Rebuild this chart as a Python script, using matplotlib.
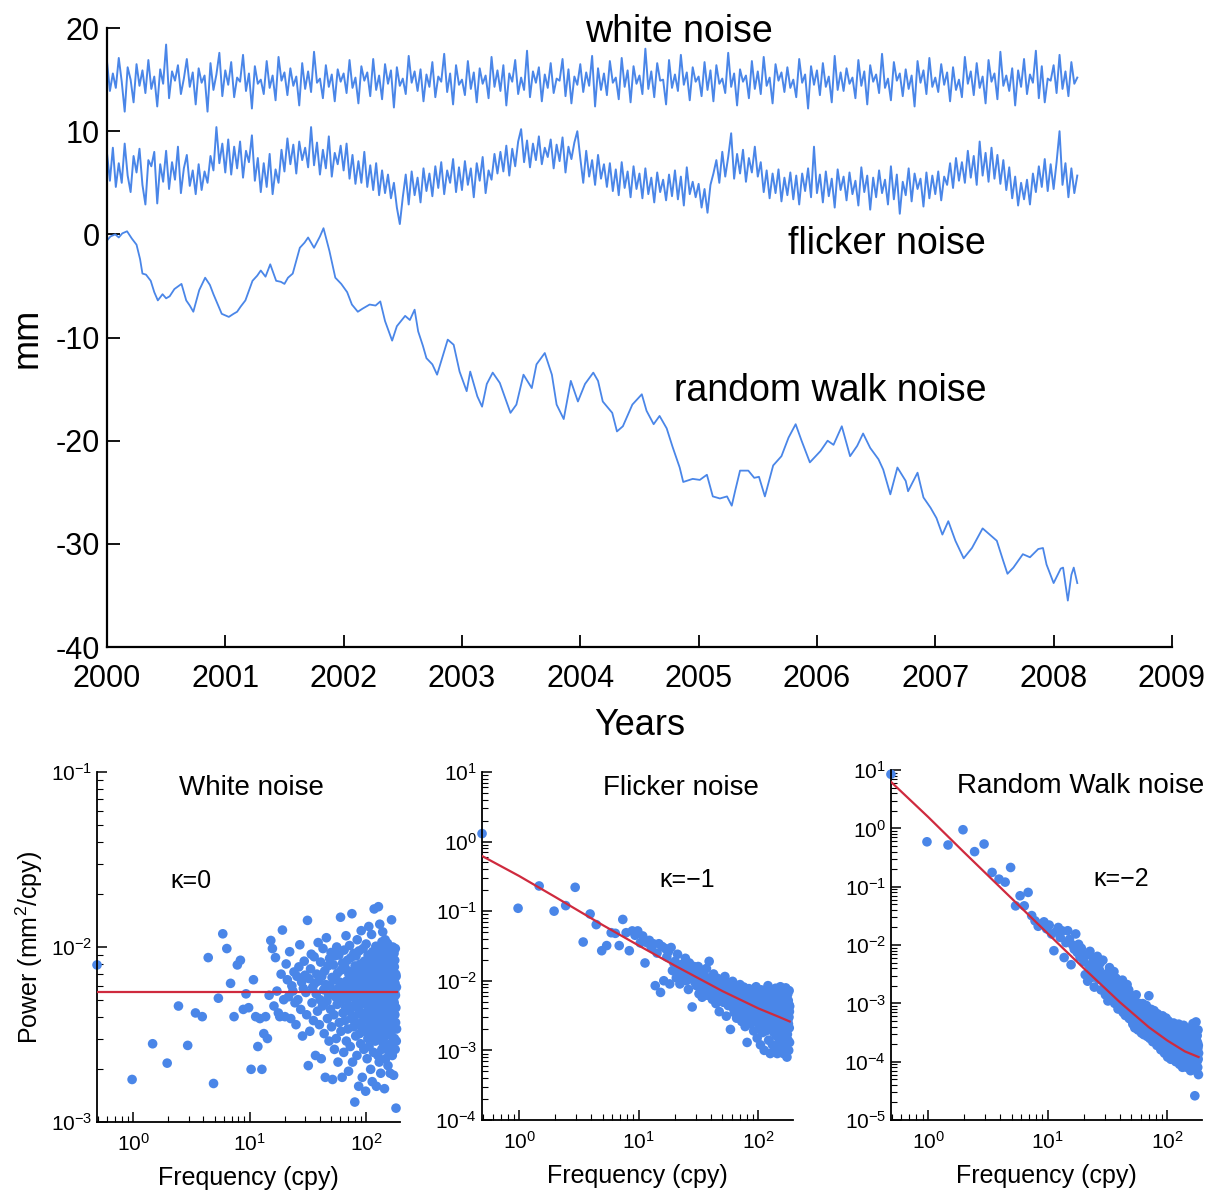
import numpy as np
import matplotlib.pyplot as plt
from matplotlib.ticker import LogLocator, NullFormatter

plt.rcParams['font.family'] = ['Liberation Sans', 'DejaVu Sans']
plt.rcParams['mathtext.default'] = 'regular'
plt.rcParams['axes.unicode_minus'] = False

# =====================================
# TIME SERIES (mm), sampled every ~0.025 yr from 2000.0 to 2008.2
# =====================================

white_mm = [
    16.8, 13.9, 15.6, 14.2, 17.1, 14.8, 11.9, 16.2, 15.0, 12.8,
    16.5, 14.4, 15.9, 13.7, 16.9, 14.1, 15.3, 12.4, 16.0, 14.6,
    18.4, 13.2, 15.8, 14.9, 16.4, 13.6, 15.1, 17.0, 14.3, 15.7,
    12.6, 16.1, 14.7, 15.4, 11.9, 16.6, 14.0, 15.5, 17.6, 13.4,
    15.9, 14.5, 16.7, 13.3, 15.2, 14.8, 17.4, 13.9, 15.6, 12.2,
    16.3, 14.6, 15.0, 13.6, 16.8, 14.2, 15.4, 13.0, 17.2, 14.9,
    15.7, 13.5, 16.1, 14.4, 15.3, 12.5, 16.6, 14.1, 15.8, 13.8,
    17.7, 14.7, 15.1, 13.2, 16.4, 14.3, 15.5, 12.9, 16.0, 14.8,
    15.6, 13.7, 16.9, 14.2, 15.2, 12.7, 16.3, 14.9, 15.7, 13.4,
    17.0, 14.0, 15.4, 13.1, 16.5, 14.6, 15.9, 12.3, 16.2, 14.4,
    15.1, 13.6, 17.3, 14.7, 15.8, 13.9, 16.0, 12.9, 15.5, 14.3,
    16.7, 13.3, 15.3, 14.8, 17.5, 13.8, 15.6, 12.6, 16.4, 14.5,
    15.0, 13.5, 16.8, 14.1, 15.7, 12.8, 16.1, 14.6, 15.4, 13.2,
    17.2, 14.3, 15.9, 13.9, 16.4, 12.5, 15.6, 14.8, 16.9, 13.6,
    15.2, 14.0, 17.8, 13.3, 15.8, 14.7, 16.2, 12.9, 15.5, 14.2,
    16.6, 13.7, 15.1, 14.9, 17.0, 13.4, 16.0, 12.7, 15.3, 14.5,
    16.5, 13.8, 15.7, 14.4, 17.3, 12.4, 16.1, 14.0, 15.6, 13.5,
    16.8, 14.7, 15.2, 13.1, 17.1, 14.3, 15.9, 12.8, 16.3, 14.6,
    15.4, 13.6, 18.0, 14.1, 15.8, 13.3, 16.6, 14.9, 15.0, 12.6,
    16.9, 14.2, 15.5, 13.9, 17.4, 14.5, 15.7, 13.0, 16.2, 14.8,
    15.3, 13.4, 16.7, 14.0, 15.9, 12.9, 16.4, 14.6, 15.1, 13.7,
    17.6, 14.3, 15.6, 12.5, 16.0, 14.8, 15.4, 13.2, 16.8, 14.1,
    15.8, 13.6, 17.2, 14.4, 15.2, 12.7, 16.5, 14.9, 15.7, 13.8,
    16.2, 14.2, 15.0, 13.3, 17.0, 14.7, 15.5, 12.2, 16.3, 14.5,
    15.9, 13.5, 16.6, 14.3, 15.3, 12.8, 17.3, 14.0, 15.7, 13.9,
    16.1, 14.6, 15.2, 13.2, 16.9, 14.4, 15.8, 12.6, 16.4, 14.8,
    15.5, 13.7, 17.5, 14.2, 15.1, 13.0, 16.7, 14.9, 15.6, 13.4,
    16.0, 14.1, 15.4, 12.4, 16.8, 14.7, 15.9, 13.6, 17.1, 14.3,
    15.2, 13.8, 16.5, 14.5, 15.7, 12.9, 16.2, 14.0, 15.0, 13.3,
    17.2, 14.6, 15.8, 13.5, 16.6, 14.2, 15.3, 12.7, 16.9, 14.8,
    15.6, 13.1, 17.7, 14.4, 15.4, 13.9, 16.1, 12.5, 15.9, 14.3,
    17.0, 13.6, 15.5, 14.7, 17.8, 13.2, 16.3, 12.8, 15.1, 14.9,
    16.4, 13.7, 17.4, 14.1, 15.8, 13.4, 16.7, 14.6, 15.2,
]

flicker_mm = [
    7.9, 5.2, 8.4, 4.6, 6.9, 5.0, 8.8, 5.7, 4.1, 7.6,
    6.0, 8.3, 4.8, 2.9, 7.2, 6.6, 8.0, 3.0, 6.8, 5.1,
    8.1, 4.4, 7.0, 5.3, 8.5, 4.0, 6.4, 7.7, 4.7, 6.2,
    3.9, 6.8, 4.3, 6.1, 5.0, 7.6, 6.2, 10.4, 6.9, 8.8,
    6.0, 9.2, 5.8, 8.5, 6.4, 9.0, 5.5, 8.1, 7.0, 9.6,
    5.2, 7.4, 4.1, 6.9, 4.6, 7.8, 3.9, 6.3, 5.0, 8.2,
    6.1, 9.3, 6.8, 8.7, 5.9, 9.0, 7.2, 8.4, 6.5, 10.4,
    6.7, 8.9, 5.8, 8.2, 6.4, 9.5, 5.6, 7.9, 6.8, 8.6,
    6.2, 8.8, 5.4, 7.7, 4.9, 7.1, 5.0, 8.0, 4.6, 6.7,
    4.3, 6.9, 3.8, 6.2, 4.0, 5.8, 3.5, 5.0, 2.6, 1.0,
    3.6, 5.8, 2.9, 6.1, 3.8, 5.5, 3.1, 6.4, 4.2, 5.9,
    3.7, 6.6, 4.5, 7.0, 3.9, 6.2, 5.0, 7.3, 4.1, 6.5,
    4.3, 7.1, 4.8, 6.4, 3.6, 6.9, 5.2, 7.5, 4.0, 6.2,
    5.3, 7.8, 5.9, 8.0, 6.1, 8.6, 5.7, 8.3, 6.6, 9.0,
    10.2, 7.0, 9.1, 6.5, 8.8, 7.2, 9.5, 6.8, 8.4, 7.5,
    9.2, 6.4, 8.7, 7.1, 9.4, 6.0, 8.5, 7.3, 8.9, 10.0,
    7.4, 5.0, 8.1, 5.6, 7.2, 4.8, 7.7, 5.4, 6.8, 4.6,
    6.9, 4.2, 6.3, 3.8, 7.0, 4.5, 6.1, 3.6, 6.6, 4.4,
    5.9, 3.5, 6.4, 3.9, 5.5, 3.1, 6.0, 4.1, 5.3, 3.3,
    5.8, 3.7, 6.2, 3.4, 5.6, 2.8, 6.5, 3.9, 5.1, 3.6,
    4.9, 2.6, 4.4, 2.1, 4.8, 5.9, 7.2, 5.0, 8.0, 5.6,
    7.5, 9.8, 5.4, 7.8, 5.9, 8.2, 5.1, 7.4, 6.0, 8.5,
    5.6, 7.0, 4.1, 6.2, 3.5, 5.9, 4.0, 6.3, 3.2, 5.5,
    3.8, 6.0, 3.4, 5.7, 2.9, 5.9, 4.2, 6.4, 3.6, 8.5,
    4.0, 5.8, 3.1, 6.1, 3.7, 5.4, 2.6, 6.3, 4.3, 5.6,
    3.3, 6.0, 3.9, 5.2, 2.8, 6.5, 4.1, 5.7, 2.4, 5.5,
    3.6, 6.2, 4.0, 5.3, 2.9, 6.6, 3.4, 5.8, 2.0, 5.1,
    3.8, 6.4, 3.2, 5.9, 4.4, 5.4, 2.7, 6.0, 3.5, 5.7,
    3.9, 6.1, 3.3, 5.6, 4.8, 6.9, 4.5, 7.4, 5.2, 7.0,
    5.0, 8.1, 5.5, 7.6, 4.8, 9.0, 5.7, 7.9, 5.1, 8.4,
    5.4, 7.7, 4.9, 7.2, 4.3, 6.5, 3.5, 5.6, 2.8, 5.0,
    3.4, 5.3, 2.9, 5.9, 4.1, 6.6, 4.6, 7.3, 4.2, 6.8,
    4.4, 7.0, 10.0, 4.8, 6.9, 3.6, 6.4, 4.0, 5.7,
]

rw_years = [
    2000.00, 2000.03, 2000.07, 2000.10, 2000.13, 2000.17, 2000.21, 2000.25, 2000.28, 2000.30,
    2000.33, 2000.37, 2000.40, 2000.43, 2000.47, 2000.50, 2000.53, 2000.57, 2000.63, 2000.67,
    2000.70, 2000.73, 2000.78, 2000.83, 2000.87, 2000.90, 2000.97, 2001.03, 2001.07, 2001.10,
    2001.13, 2001.17, 2001.23, 2001.27, 2001.30, 2001.34, 2001.38, 2001.43, 2001.47, 2001.50,
    2001.53, 2001.57, 2001.63, 2001.67, 2001.70, 2001.75, 2001.80, 2001.83, 2001.88, 2001.93,
    2001.98, 2002.03, 2002.07, 2002.12, 2002.16, 2002.22, 2002.27, 2002.31, 2002.35, 2002.41,
    2002.45, 2002.52, 2002.56, 2002.60, 2002.63, 2002.67, 2002.70, 2002.75, 2002.79, 2002.83,
    2002.88, 2002.93, 2002.98, 2003.04, 2003.07, 2003.13, 2003.17, 2003.21, 2003.26, 2003.32,
    2003.37, 2003.41, 2003.46, 2003.52, 2003.59, 2003.63, 2003.70, 2003.76, 2003.80, 2003.86,
    2003.92, 2003.98, 2004.04, 2004.11, 2004.15, 2004.19, 2004.27, 2004.31, 2004.36, 2004.44,
    2004.52, 2004.56, 2004.62, 2004.67, 2004.73, 2004.78, 2004.84, 2004.87, 2004.95, 2005.01,
    2005.07, 2005.12, 2005.18, 2005.24, 2005.28, 2005.31, 2005.35, 2005.42, 2005.47, 2005.51,
    2005.56, 2005.63, 2005.70, 2005.76, 2005.82, 2005.87, 2005.94, 2006.03, 2006.09, 2006.14,
    2006.21, 2006.28, 2006.34, 2006.39, 2006.45, 2006.52, 2006.56, 2006.62, 2006.68, 2006.75,
    2006.77, 2006.85, 2006.90, 2006.96, 2007.01, 2007.06, 2007.11, 2007.17, 2007.24, 2007.31,
    2007.40, 2007.46, 2007.52, 2007.57, 2007.61, 2007.66, 2007.74, 2007.80, 2007.87, 2007.91,
    2007.94, 2008.00, 2008.06, 2008.08, 2008.12, 2008.15, 2008.17, 2008.20,
]
rw_mm = [
    -0.6, -0.2, 0.0, -0.3, 0.1, 0.3, -0.4, -1.0, -2.4, -3.8,
    -3.9, -4.5, -5.6, -6.4, -5.8, -6.2, -6.0, -5.3, -4.8, -6.4,
    -6.9, -7.5, -5.4, -4.2, -4.9, -5.8, -7.7, -8.0, -7.7, -7.5,
    -7.0, -6.4, -4.5, -4.0, -3.5, -4.1, -2.9, -4.5, -4.6, -4.8,
    -4.2, -3.8, -1.3, -0.8, -0.3, -1.3, -0.2, 0.6, -1.6, -4.2,
    -4.8, -5.6, -6.8, -7.5, -7.2, -6.8, -6.9, -6.5, -8.4, -10.3,
    -8.9, -7.9, -8.3, -7.3, -9.4, -10.8, -12.0, -12.6, -13.6, -12.1,
    -10.2, -10.7, -13.3, -15.2, -13.3, -15.7, -16.7, -14.5, -13.4, -14.4,
    -16.0, -17.3, -16.5, -13.6, -14.9, -12.6, -11.5, -13.6, -16.5, -17.9,
    -14.2, -16.2, -14.5, -13.4, -14.2, -16.2, -17.3, -19.1, -18.6, -16.5,
    -15.5, -17.1, -18.4, -17.6, -18.8, -20.6, -22.6, -24.0, -23.7, -23.8,
    -23.3, -25.4, -25.6, -25.4, -26.3, -24.8, -22.9, -22.9, -23.6, -23.5,
    -25.4, -22.4, -21.5, -19.7, -18.4, -20.0, -22.1, -21.0, -20.0, -20.4,
    -18.6, -21.5, -20.5, -19.3, -20.7, -21.8, -22.8, -25.2, -22.6, -23.9,
    -24.9, -23.1, -25.5, -26.5, -27.5, -29.1, -27.8, -29.7, -31.4, -30.4,
    -28.5, -29.1, -29.7, -31.5, -32.9, -32.3, -31.0, -31.3, -30.5, -30.4,
    -32.0, -33.8, -32.4, -32.3, -35.5, -33.0, -32.3, -33.8,
]

# =====================================
# POWER SPECTRA, frequency step ~0.49 cpy
# =====================================

df_cpy = 0.49

# white noise power, in units of 1e-3 mm^2/cpy
white_p = np.array([
    7.9, 1.75, 2.8, 2.17, 4.6, 2.74, 4.2, 4.0, 8.7, 1.66,
    5.1, 11.9, 9.8, 6.2, 4.0, 7.9, 8.4, 4.4, 5.4, 4.5,
    2.0, 6.5, 4.0, 2.7, 3.9, 2.0, 3.2, 4.0, 3.0, 5.3,
    10.9, 9.8, 4.6, 8.7, 5.6, 4.2, 4.0, 7.0, 12.5, 5.0,
    4.0, 8.0, 6.5, 5.2, 9.4, 3.9, 6.0, 5.6, 7.2, 4.8,
    3.6, 6.8, 5.0, 7.7, 10.3, 4.4, 6.3, 3.1, 5.8, 8.3,
    6.9, 5.5, 4.1, 14.2, 2.1, 6.6, 3.3, 7.5, 9.1, 4.8,
    5.9, 3.8, 8.8, 6.2, 2.4, 5.4, 7.0, 4.3, 10.6, 6.4,
    3.6, 5.0, 8.2, 2.3, 6.8, 4.6, 9.8, 5.7, 3.2, 7.3,
    1.8, 6.1, 11.3, 4.9, 3.9, 7.8, 5.3, 2.9, 8.6, 6.0,
    4.4, 9.3, 3.5, 6.7, 1.75, 5.6, 7.9, 4.1, 2.6, 8.9,
    5.2, 6.5, 3.0, 10.0, 4.7, 7.1, 2.2, 5.8, 9.0, 3.7,
    6.3, 4.9, 14.8, 3.3, 7.4, 5.5, 1.8, 8.1, 4.2, 6.0,
    2.5, 9.6, 5.1, 3.8, 7.6, 4.5, 11.6, 2.9, 6.4, 5.0,
    8.4, 3.4, 5.9, 1.95, 7.0, 4.3, 10.2, 6.1, 2.7, 5.4,
    8.7, 3.9, 6.7, 15.5, 4.6, 2.2, 7.3, 5.2, 3.5, 9.2,
    6.0, 4.0, 1.3, 7.8, 5.3, 3.1, 8.9, 4.8, 6.5, 2.4,
    11.0, 5.7, 3.6, 7.2, 4.4, 1.6, 9.5, 5.9, 3.2, 6.9,
    4.7, 8.0, 2.8, 5.5, 12.4, 3.7, 6.3, 4.1, 1.8, 7.6,
    5.0, 9.8, 3.3, 6.1, 2.6, 4.9, 8.3, 5.6, 3.9, 7.0,
    4.2, 1.5, 6.6, 10.4, 3.4, 5.8, 7.9, 2.3, 4.6, 6.9,
    3.0, 9.0, 5.2, 4.0, 13.1, 2.7, 6.2, 5.0, 7.4, 3.6,
    8.5, 4.5, 2.0, 5.9, 6.8, 3.2, 11.8, 4.8, 7.1, 1.7,
    5.4, 9.4, 3.8, 6.4, 4.3, 2.5, 7.7, 5.1, 16.5, 3.5,
    6.0, 4.7, 8.8, 2.9, 5.6, 3.4, 10.1, 4.0, 6.6, 1.6,
    7.3, 5.0, 3.1, 9.7, 4.4, 6.2, 2.4, 8.1, 5.3, 17.0,
    3.7, 6.8, 4.9, 2.2, 7.5, 5.7, 13.5, 3.9, 6.1, 4.2,
    9.0, 1.9, 5.4, 8.6, 3.3, 6.4, 4.6, 2.6, 10.7, 5.1,
    7.2, 3.6, 12.2, 4.8, 6.0, 2.8, 8.3, 5.5, 3.0, 9.9,
    4.1, 6.7, 1.55, 7.8, 5.2, 3.5, 11.0, 4.5, 6.3, 2.3,
    8.9, 5.8, 3.9, 6.9, 4.3, 9.5, 2.7, 5.0, 7.4, 3.2,
    10.5, 4.7, 6.5, 2.1, 8.0, 5.4, 3.7, 6.1, 4.0, 9.1,
    2.5, 7.0, 5.6, 3.4, 8.7, 4.4, 6.3, 1.9, 5.1, 9.6,
    3.6, 6.8, 4.9, 2.8, 7.6, 5.3, 14.3, 3.1, 6.0, 4.6,
    8.2, 2.4, 5.7, 3.8, 10.0, 6.6, 4.2, 2.9, 7.3, 5.0,
    1.85, 6.4, 3.5, 9.2, 4.8, 7.7, 3.0, 5.5, 8.4, 4.1,
    6.2, 2.6, 9.8, 5.3, 3.7, 7.0, 4.5, 1.2, 6.8, 2.9,
    5.9, 3.4,
]) * 1e-3

flicker_p = np.array([
    1.3, 0.11, 0.23, 0.10, 0.12, 0.22, 0.036, 0.091, 0.064, 0.027,
    0.032, 0.049, 0.048, 0.032, 0.076, 0.049, 0.027, 0.052, 0.045, 0.052,
    0.035, 0.044, 0.018, 0.035, 0.038, 0.030, 0.034, 0.0085, 0.025, 0.034,
    0.0068, 0.031, 0.010, 0.029, 0.022, 0.026, 0.009, 0.030, 0.014, 0.018,
    0.019, 0.011, 0.024, 0.014, 0.009, 0.017, 0.012, 0.013, 0.015, 0.021,
    0.010, 0.013, 0.0075, 0.018, 0.011, 0.0145, 0.0042, 0.012, 0.016, 0.0095,
    0.013, 0.0085, 0.011, 0.016, 0.0065, 0.012, 0.0095, 0.014, 0.0058, 0.010,
    0.013, 0.0078, 0.0115, 0.0088, 0.015, 0.0062, 0.0105, 0.0082, 0.019, 0.0072,
    0.0095, 0.0068, 0.0112, 0.0054, 0.0088, 0.0125, 0.0061, 0.0079, 0.0098, 0.0047,
    0.0083, 0.0069, 0.0108, 0.0058, 0.0091, 0.0036, 0.0076, 0.0102, 0.0064, 0.0085,
    0.0058, 0.0094, 0.0071, 0.0049, 0.0083, 0.0062, 0.0115, 0.0055, 0.0068, 0.0031,
    0.0077, 0.0059, 0.0090, 0.0044, 0.0066, 0.0081, 0.0052, 0.0071, 0.0020, 0.0063,
    0.0075, 0.0048, 0.0062, 0.0098, 0.0041, 0.0057, 0.0069, 0.0035, 0.0060, 0.0084,
    0.0046, 0.0053, 0.0072, 0.0029, 0.0058, 0.0065, 0.0044, 0.0079, 0.0051, 0.0038,
    0.0061, 0.0047, 0.0088, 0.0033, 0.0055, 0.0042, 0.0068, 0.0026, 0.0050, 0.0074,
    0.0039, 0.0057, 0.0045, 0.0081, 0.0031, 0.0053, 0.0064, 0.0022, 0.0048, 0.0059,
    0.0040, 0.0071, 0.0046, 0.0013, 0.0055, 0.0036, 0.0062, 0.0043, 0.0028, 0.0077,
    0.0049, 0.0035, 0.0058, 0.0041, 0.0024, 0.0066, 0.0045, 0.0032, 0.0052, 0.0039,
    0.0060, 0.0029, 0.0047, 0.0037, 0.0071, 0.0019, 0.0051, 0.0042, 0.0033, 0.0063,
    0.0045, 0.0026, 0.0056, 0.0038, 0.0082, 0.0031, 0.0048, 0.0040, 0.0015, 0.0053,
    0.0036, 0.0058, 0.0027, 0.0044, 0.0034, 0.0067, 0.0021, 0.0049, 0.0039, 0.0030,
    0.0055, 0.0012, 0.0043, 0.0035, 0.0074, 0.0025, 0.0046, 0.0032, 0.0052, 0.0018,
    0.0041, 0.0029, 0.0062, 0.0035, 0.0023, 0.0048, 0.0038, 0.0010, 0.0054, 0.0031,
    0.0044, 0.0027, 0.0069, 0.0036, 0.0019, 0.0050, 0.0033, 0.0042, 0.0026, 0.0058,
    0.0034, 0.0021, 0.0047, 0.0039, 0.0085, 0.0028, 0.0043, 0.0014, 0.0036, 0.0055,
    0.0030, 0.0040, 0.0024, 0.0061, 0.0033, 0.0009, 0.0046, 0.0037, 0.0027, 0.0051,
    0.0031, 0.0072, 0.0038, 0.0022, 0.0044, 0.0029, 0.0012, 0.0053, 0.0035, 0.0026,
    0.0041, 0.0065, 0.0030, 0.0018, 0.0048, 0.0034, 0.0025, 0.0057, 0.0039, 0.0011,
    0.0036, 0.0045, 0.0023, 0.0078, 0.0032, 0.0027, 0.0050, 0.0016, 0.0038, 0.0029,
    0.0060, 0.0034, 0.0009, 0.0043, 0.0026, 0.0052, 0.0031, 0.0021, 0.0047, 0.0035,
    0.0028, 0.0066, 0.0033, 0.0013, 0.0040, 0.0024, 0.0055, 0.0030, 0.0037, 0.0019,
    0.0082, 0.0029, 0.0044, 0.0010, 0.0034, 0.0049, 0.0025, 0.0039, 0.0058, 0.0022,
    0.0032, 0.0015, 0.0047, 0.0027, 0.0036, 0.0070, 0.0021, 0.0041, 0.0030, 0.0009,
    0.0053, 0.0025, 0.0038, 0.0045, 0.0018, 0.0033, 0.0062, 0.0028, 0.0012, 0.0042,
    0.0026, 0.0051, 0.0035, 0.0020, 0.0079, 0.0031, 0.0011, 0.0044, 0.0029, 0.0057,
    0.0023, 0.0037, 0.0008, 0.0048, 0.0032, 0.0017, 0.0040, 0.0064, 0.0027, 0.0014,
    0.0035, 0.0052, 0.0024, 0.0039, 0.0010, 0.0046, 0.0030, 0.0072, 0.0021, 0.0036,
    0.0013, 0.0043,
])

rw_p = np.array([
    8.5, 0.59, 0.52, 0.95, 0.40, 0.54, 0.176, 0.135, 0.12, 0.214,
    0.047, 0.070, 0.047, 0.080, 0.032, 0.026, 0.021, 0.023, 0.025, 0.019,
    0.022, 0.0155, 0.008, 0.017, 0.020, 0.0135, 0.0175, 0.0061, 0.011, 0.0176,
    0.0125, 0.0046, 0.010, 0.0085, 0.0155, 0.0075, 0.0103, 0.0062, 0.0088, 0.0066,
    0.0052, 0.0031, 0.0068, 0.0024, 0.0045, 0.0078, 0.0036, 0.0028, 0.0058, 0.0019,
    0.0042, 0.0033, 0.0064, 0.0026, 0.0038, 0.0049, 0.0017, 0.0030, 0.0055, 0.0023,
    0.0026, 0.0014, 0.0032, 0.0019, 0.0011, 0.0024, 0.0041, 0.0016, 0.0022, 0.0013,
    0.0029, 0.0018, 0.0035, 0.0010, 0.0021, 0.0027, 0.0015, 0.0019, 0.0008, 0.0024,
    0.0013, 0.0020, 0.0009, 0.0016, 0.0011, 0.0025, 0.0007, 0.0014, 0.0018, 0.0010,
    0.00062, 0.0015, 0.0012, 0.0021, 0.00085, 0.0013, 0.0017, 0.00055, 0.0011, 0.0014,
    0.0009, 0.00052, 0.0012, 0.00068, 0.00044, 0.00095, 0.00075, 0.0011, 0.00038, 0.00082,
    0.00061, 0.0014, 0.00049, 0.00072, 0.00088, 0.00035, 0.00064, 0.0010, 0.00056, 0.00078,
    0.00047, 0.00085, 0.00063, 0.00031, 0.00072, 0.00054, 0.00099, 0.00041, 0.00066, 0.00029,
    0.00058, 0.00081, 0.00045, 0.00069, 0.00036, 0.00092, 0.00051, 0.00062, 0.00027, 0.00057,
    0.00048, 0.00071, 0.00135, 0.00038, 0.00055, 0.00025, 0.00064, 0.00044, 0.00079, 0.00033,
    0.00052, 0.00041, 0.00068, 0.00022, 0.00047, 0.00059, 0.00036, 0.00075, 0.00043, 0.00028,
    0.00051, 0.00034, 0.00062, 0.00024, 0.00041, 0.00055, 0.00019, 0.00038, 0.00066, 0.00029,
    0.00045, 0.00033, 0.00053, 0.00021, 0.00040, 0.00058, 0.00027, 0.00036, 0.00047, 0.00016,
    0.00035, 0.00049, 0.00023, 0.00041, 0.00029, 0.00061, 0.00018, 0.00037, 0.00045, 0.00026,
    0.00052, 0.00031, 0.00014, 0.00039, 0.00028, 0.00047, 0.00022, 0.00034, 0.00056, 0.00025,
    0.00032, 0.00019, 0.00042, 0.00027, 0.00012, 0.00036, 0.00024, 0.00050, 0.00021, 0.00031,
    0.00016, 0.00039, 0.00026, 0.00045, 0.00018, 0.00029, 0.00035, 0.00011, 0.00028, 0.00041,
    0.00023, 0.00033, 0.00015, 0.00027, 0.00038, 0.00020, 0.00025, 0.00012, 0.00031, 0.00046,
    0.00018, 0.00026, 0.00034, 0.00014, 0.00022, 0.00030, 0.00017, 0.00041, 0.00024, 0.00010,
    0.00028, 0.00016, 0.00035, 0.00021, 0.00013, 0.00026, 0.00039, 0.00019, 0.00023, 0.00011,
    0.00032, 0.00017, 0.00025, 0.00044, 0.00015, 0.00020, 0.00029, 0.00009, 0.00022, 0.00034,
    0.00018, 0.00027, 0.00012, 0.00021, 0.00036, 0.00016, 0.00024, 0.00010, 0.00019, 0.00030,
    0.00014, 0.00022, 0.00008, 0.00026, 0.00017, 0.00033, 0.00013, 0.00020, 0.00042, 0.00015,
    0.00023, 0.00011, 0.00019, 0.00028, 0.00014, 0.00017, 0.00031, 0.00009, 0.00021, 0.00015,
    0.00025, 0.00012, 0.00018, 0.00037, 0.00013, 0.00020, 0.00008, 0.00024, 0.00016, 0.00027,
    0.00012, 0.00020, 0.00029, 0.00014, 0.00017, 0.00009, 0.00023, 0.00015, 0.00033, 0.00011,
    0.00019, 0.00026, 0.00010, 0.00016, 0.00022, 0.00013, 0.00038, 0.00018, 0.00007, 0.00021,
    0.00014, 0.00025, 0.00011, 0.00018, 0.00030, 0.00013, 0.00016, 0.00008, 0.00022, 0.00015,
    0.00027, 0.00010, 0.00019, 0.00045, 0.00012, 0.00017, 0.00024, 0.00009, 0.00014, 0.00021,
    0.00011, 0.00018, 0.00032, 0.00013, 0.00016, 0.000026, 0.00020, 0.00012, 0.00026, 0.00009,
    0.00015, 0.00022, 0.00011, 0.00048, 0.00014, 0.00018, 0.00007, 0.00023, 0.00013, 0.00017,
    0.00010, 0.00028, 0.00015, 0.00012, 0.00021, 0.00008, 0.00017, 0.00035, 0.00011, 0.00019,
    0.00006, 0.00014,
])

# fitted model curves
white_fit_f = [0.49, 182.3]
white_fit_p = [5.5e-3, 5.5e-3]
flicker_fit_f = [0.49, 1, 2, 5, 10, 20, 50, 100, 150, 182.3]
flicker_fit_p = [0.62, 0.32, 0.16, 0.063, 0.032, 0.0165, 0.0071, 0.0040, 0.0030, 0.0026]
rw_fit_f = [0.49, 1, 2, 5, 10, 20, 40, 70, 100, 140, 182.3]
rw_fit_p = [6.3, 1.58, 0.39, 0.063, 0.0158, 0.0040, 1.05e-3, 3.9e-4, 2.3e-4, 1.5e-4, 1.2e-4]

BLUE = '#4a86e8'
RED = '#cf2a3e'

fig = plt.figure(figsize=(12.25, 11.94), dpi=100)

# =====================================
# TOP: TIME SERIES
# =====================================

ax = fig.add_axes([0.0873, 0.4581, 0.8694, 0.5184])

t_white = np.linspace(2000.0, 2008.2, len(white_mm))
t_flicker = np.linspace(2000.0, 2008.2, len(flicker_mm))

ax.plot(t_white, white_mm, color=BLUE, lw=1.4)
ax.plot(t_flicker, flicker_mm, color=BLUE, lw=1.4)
ax.plot(rw_years, rw_mm, color=BLUE, lw=1.3)

ax.text(2004.83, 19.65, 'white noise', fontsize=27, ha='center', va='center')
ax.text(2006.59, -0.97, 'flicker noise', fontsize=27, ha='center', va='center')
ax.text(2006.11, -15.2, 'random walk noise', fontsize=27, ha='center', va='center')

ax.set_xlim(2000, 2009)
ax.set_ylim(-40, 20)
ax.set_xticks(range(2000, 2010))
ax.set_yticks(range(-40, 21, 10))
ax.tick_params(direction='in', length=9, width=1.3, labelsize=22)
ax.tick_params(axis='x', pad=12)
ax.tick_params(axis='y', pad=5)
ax.spines['top'].set_visible(False)
ax.spines['right'].set_visible(False)
ax.spines['left'].set_linewidth(1.6)
ax.spines['bottom'].set_linewidth(1.6)

ax.set_xlabel('Years', fontsize=26, labelpad=10)
ax.set_ylabel('mm', fontsize=26, labelpad=8)

# =====================================
# BOTTOM: POWER SPECTRA
# =====================================

panels = [
    ([0.0792, 0.0603, 0.2473, 0.2931], white_p, white_fit_f, white_fit_p,
     (1e-3, 1e-1), 'White noise', 0.51, 'κ=0', 0.31),
    ([0.3935, 0.0620, 0.2540, 0.2915], flicker_p, flicker_fit_f, flicker_fit_p,
     (1e-4, 1e1), 'Flicker noise', 0.64, 'κ=−1', 0.66),
    ([0.7273, 0.0620, 0.2540, 0.2930], rw_p, rw_fit_f, rw_fit_p,
     (1e-5, 1e1), 'Random Walk noise', 0.61, 'κ=−2', 0.74),
]

for i, (pos, power, fit_f, fit_p, ylim, title, tx, kappa, kx) in enumerate(panels):
    bx = fig.add_axes(pos)
    freq = df_cpy * np.arange(1, len(power) + 1)

    bx.scatter(freq, power, s=48, color=BLUE, edgecolors='none', zorder=2, clip_on=False)
    bx.plot(fit_f, fit_p, color=RED, lw=1.6, zorder=3)

    bx.set_xscale('log')
    bx.set_yscale('log')
    bx.set_xlim(0.49, 195)
    bx.set_ylim(*ylim)

    bx.xaxis.set_major_locator(LogLocator(base=10, numticks=10))
    bx.xaxis.set_minor_locator(LogLocator(base=10, subs=np.arange(2, 10), numticks=20))
    bx.yaxis.set_major_locator(LogLocator(base=10, numticks=10))
    bx.yaxis.set_minor_locator(LogLocator(base=10, subs=np.arange(2, 10), numticks=20))
    bx.xaxis.set_minor_formatter(NullFormatter())
    bx.yaxis.set_minor_formatter(NullFormatter())

    bx.tick_params(which='major', direction='in', length=7, width=1.1, labelsize=15)
    bx.tick_params(which='minor', direction='in', length=4, width=0.8)
    bx.tick_params(axis='x', pad=8)
    bx.spines['top'].set_visible(False)
    bx.spines['right'].set_visible(False)
    bx.spines['left'].set_linewidth(1.3)
    bx.spines['bottom'].set_linewidth(1.3)

    bx.text(tx, 0.955, title, transform=bx.transAxes, fontsize=20,
            ha='center', va='center')
    bx.text(kx, 0.69, kappa, transform=bx.transAxes, fontsize=18,
            ha='center', va='center')

    bx.set_xlabel('Frequency (cpy)', fontsize=18, labelpad=8)
    if i == 0:
        bx.set_ylabel('Power (mm$^{2}$/cpy)', fontsize=18, labelpad=4)

plt.savefig('out.png', dpi=100)
plt.close()
